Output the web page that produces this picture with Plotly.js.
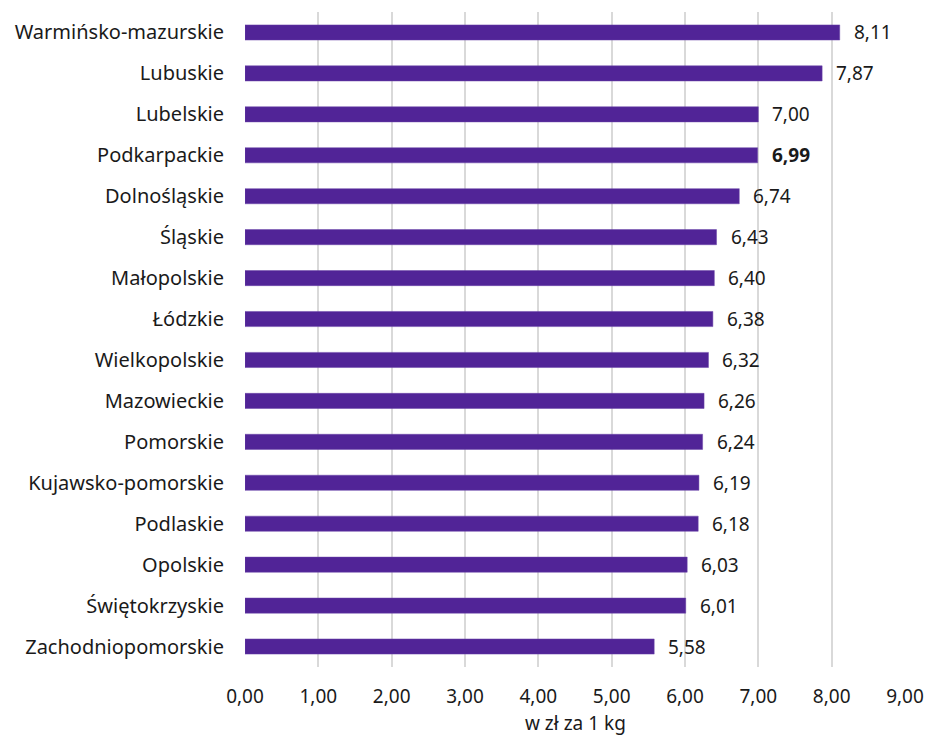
<!DOCTYPE html>
<html><head><meta charset="utf-8">
<script src="https://cdn.plot.ly/plotly-3.0.1.min.js"></script>
<style>body{margin:0;background:#fff}#c{width:928px;height:738px}</style>
</head><body><div id="c"></div>
<script>
const regions = ["Warmińsko-mazurskie","Lubuskie","Lubelskie","Podkarpackie","Dolnośląskie","Śląskie","Małopolskie","Łódzkie","Wielkopolskie","Mazowieckie","Pomorskie","Kujawsko-pomorskie","Podlaskie","Opolskie","Świętokrzyskie","Zachodniopomorskie"];
const prices = [8.11,7.87,7.00,6.99,6.74,6.43,6.40,6.38,6.32,6.26,6.24,6.19,6.18,6.03,6.01,5.58];
const highlighted = "Podkarpackie";
const xTicks = [0,1,2,3,4,5,6,7,8,9];
const xTitle = "w zł za 1 kg";

const fmt = v => v.toFixed(2).replace('.', ',');
const annotations = regions.map((r,i)=>({
  x: prices[i], y: r, xref:'x', yref:'y',
  text: r===highlighted ? '<b>'+fmt(prices[i])+'</b>' : fmt(prices[i]),
  showarrow:false, xanchor:'left', xshift:12,
  font:{family:'Noto Sans, sans-serif', size:19, color:'#1a1a1a'}
}));
annotations.push({
  x:0.5, y:0, xref:'paper', yref:'paper', text:xTitle, showarrow:false,
  xanchor:'center', yanchor:'top', yshift:-41,
  font:{family:'Noto Sans, sans-serif', size:19, color:'#1a1a1a'}
});

Plotly.newPlot('c',[{
  type:'bar', orientation:'h', x:prices, y:regions,
  marker:{color:'#512497', line:{color:'#6a45a8', width:0.5}},
  width:0.37, hoverinfo:'none'
}],{
  width:928, height:738,
  margin:{l:245, r:23, t:12, b:71},
  paper_bgcolor:'#fff', plot_bgcolor:'#fff',
  separators:', ',
  font:{family:'Noto Sans, sans-serif', size:19, color:'#1a1a1a'},
  xaxis:{range:[0,9], tickvals:xTicks, tickformat:'.2f', showgrid:true, gridcolor:'#d9d9d9', gridwidth:2,
    zeroline:false, showline:false, ticks:'outside', ticklen:12, tickcolor:'rgba(0,0,0,0)',
    automargin:false, fixedrange:true},
  yaxis:{autorange:'reversed', showgrid:false, zeroline:false, showline:false, ticks:'outside', ticklen:16, tickcolor:'rgba(0,0,0,0)', tickfont:{size:20}, fixedrange:true},
  annotations:annotations,
  showlegend:false
},{staticPlot:true});
</script></body></html>
